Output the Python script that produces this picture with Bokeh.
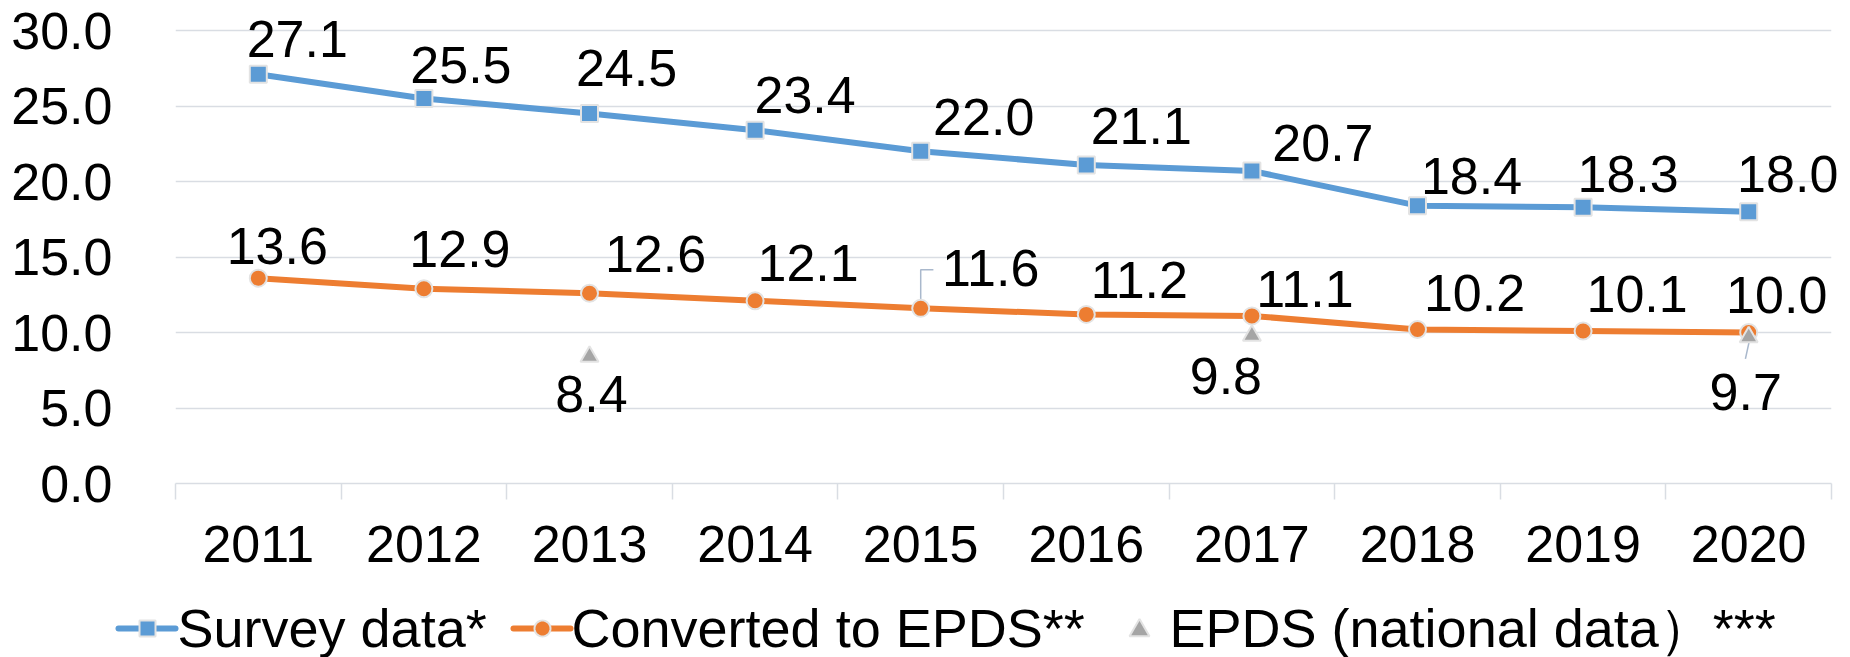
import math
from bokeh.plotting import figure
from bokeh.models import Range1d, FixedTicker, ColumnDataSource, PrintfTickFormatter
from bokeh.core.properties import value
from bokeh.embed import file_html
from bokeh.resources import INLINE

# ---------------- data ----------------
years = [2011, 2012, 2013, 2014, 2015, 2016, 2017, 2018, 2019, 2020]
survey = [27.1, 25.5, 24.5, 23.4, 22.0, 21.1, 20.7, 18.4, 18.3, 18.0]
converted = [13.6, 12.9, 12.6, 12.1, 11.6, 11.2, 11.1, 10.2, 10.1, 10.0]
epds_years = [2013, 2017, 2020]
epds = [8.4, 9.8, 9.7]
y_ticks = [0, 5, 10, 15, 20, 25, 30]
series_names = ["Survey data*", "Converted to EPDS**", "EPDS (national data）***"]

# ---------------- label placement (screen px, layout only) ----------------
survey_dx = [39, 37, 37, 50, 63, 55, 71, 54, 45, 39]
survey_dy = [-15, -13, -26, -15, -14, -19, -8, -10, -13, -18]
conv_dx = [19, 36, 66, 53, 70, 53, 53, 57, 54, 28]
conv_dy = [-12, -20, -19, -18, -20, -14, -7, -16, -17, -18]
epds_dx = [2, -26, -3]
epds_dy = [57, 60, 75]
BASE_FIX = -20  # renderer places alphabetic baseline lower; compensate

# legend layout (page px)
LEG_MID_Y = 628
LEG_BASE_Y = 647
LEG_LINES = [(118, 175), (513, 570), None]
LEG_MARK_X = [147, 542, 1139]
LEG_MARK_Y = [628, 628, 630]
LEG_MARK_R = [8, 8, 10]
LEG_TEXT_X = [177, 571, 1169]

# ---------------- styles ----------------
FONT = "Liberation Sans"
FS = "52px"
LEG_FS = "54px"
BLUE = "#5b9bd5"
ORANGE = "#ed7d31"
GRAY = "#a5a5a5"
EDGE = "#e3e3e3"
GRID = "#d9dde3"
LEADER = "#a9b8cc"

W, H = 1850, 657
BL, BR, BT, BB = 175, 19, 27, 174
x0, x1 = 2010.5, 2020.5
y0, y1 = 0, 30.2
px_x = (W - BL - BR) / (x1 - x0)
px_y = (H - BT - BB) / (y1 - y0)


def to_x(px):
    return x0 + (px - BL) / px_x


def to_y(py):
    return y1 - (py - BT) / px_y


p = figure(width=W, height=H, x_range=Range1d(x0, x1), y_range=Range1d(y0, y1),
           output_backend="svg", toolbar_location=None,
           min_border_left=BL, min_border_right=BR, min_border_top=BT, min_border_bottom=BB)
p.outline_line_color = None
p.background_fill_color = "white"
p.border_fill_color = "white"

p.xgrid.visible = False
p.ygrid.ticker = FixedTicker(ticks=y_ticks)
p.ygrid.grid_line_color = GRID
p.ygrid.grid_line_width = 1.5

yax = p.yaxis[0]
yax.ticker = FixedTicker(ticks=y_ticks)
yax.formatter = PrintfTickFormatter(format="%.1f")
yax.axis_line_color = None
yax.major_tick_line_color = None
yax.minor_tick_line_color = None
yax.major_tick_out = 0
yax.major_label_standoff = 63
yax.major_label_text_font = FONT
yax.major_label_text_font_size = FS
yax.major_label_text_color = "black"

xax = p.xaxis[0]
xax.ticker = FixedTicker(ticks=years, minor_ticks=[y - 0.5 for y in years] + [years[-1] + 0.5])
xax.major_tick_line_color = None
xax.major_tick_out = 0
xax.major_tick_in = 0
xax.minor_tick_in = 0
xax.minor_tick_out = 16
xax.minor_tick_line_color = GRID
xax.minor_tick_line_width = 1.5
xax.axis_line_color = GRID
xax.axis_line_width = 1.5
xax.major_label_standoff = 26
xax.major_label_text_font = FONT
xax.major_label_text_font_size = FS
xax.major_label_text_color = "black"

src_s = ColumnDataSource(dict(x=years, y=survey, lab=[f"{v:.1f}" for v in survey],
                              dx=survey_dx, dy=[d + BASE_FIX for d in survey_dy]))
src_c = ColumnDataSource(dict(x=years, y=converted, lab=[f"{v:.1f}" for v in converted],
                              dx=conv_dx, dy=[d + BASE_FIX for d in conv_dy]))
src_e = ColumnDataSource(dict(x=epds_years, y=epds, lab=[f"{v:.1f}" for v in epds],
                              dx=epds_dx, dy=[d + BASE_FIX for d in epds_dy]))

# leader lines (drawn beneath markers)
i15 = years.index(2015)
lx = years[i15]
ly = converted[i15]
p.line([lx, lx, lx + 12.7 / px_x], [ly, ly + 38.5 / px_y, ly + 38.5 / px_y],
       line_color=LEADER, line_width=1.5)
ex, ey = epds_years[-1], epds[-1]
p.segment(x0=[ex - 3.3 / px_x], y0=[ey - 21.8 / px_y], x1=[ex + 0.7 / px_x], y1=[ey - 3.5 / px_y],
          line_color=LEADER, line_width=1.5)

p.line("x", "y", source=src_s, line_color=BLUE, line_width=6,
       line_join="round", line_cap="round")
p.line("x", "y", source=src_c, line_color=ORANGE, line_width=6,
       line_join="round", line_cap="round")
p.scatter("x", "y", source=src_s, marker="square", size=17, fill_color=BLUE,
          line_color=EDGE, line_width=2)
p.scatter("x", "y", source=src_c, marker="circle", size=17, fill_color=ORANGE,
          line_color=EDGE, line_width=2)
p.scatter("x", "y", source=src_e, marker="triangle", size=18, fill_color=GRAY,
          line_color=EDGE, line_width=2)

for src in (src_s, src_c, src_e):
    p.text("x", "y", text="lab", x_offset="dx", y_offset="dy", source=src,
           text_font=value(FONT), text_font_size=FS, text_color="black",
           text_align="center", text_baseline="alphabetic", level="overlay")

# ---------------- legend (below the axis, drawn unclipped) ----------------
leg_colors = [BLUE, ORANGE, GRAY]


def symbol(kind, cx, cy, r):
    if kind == 0:      # square
        pts = [(-r, -r), (r, -r), (r, r), (-r, r)]
    elif kind == 1:    # circle
        pts = [(r * math.cos(2 * math.pi * k / 36), r * math.sin(2 * math.pi * k / 36))
               for k in range(36)]
    else:              # triangle
        h = r * math.sqrt(3)
        pts = [(-r, h / 3), (r, h / 3), (0, h / 3 - h)]
    return [to_x(cx + a) for a, _ in pts], [to_y(cy + b) for _, b in pts]


for i in range(3):
    if LEG_LINES[i] is not None:
        a, b = LEG_LINES[i]
        p.line([to_x(a), to_x(b)], [to_y(LEG_MID_Y), to_y(LEG_MID_Y)], line_color=leg_colors[i],
               line_width=6, line_cap="round", level="overlay")
    xs, ys = symbol(i, LEG_MARK_X[i], LEG_MARK_Y[i], LEG_MARK_R[i])
    p.patch(xs, ys, fill_color=leg_colors[i], line_color=EDGE, line_width=2, level="overlay")

leg_src = ColumnDataSource(dict(x=[to_x(v) for v in LEG_TEXT_X], y=[to_y(LEG_BASE_Y)] * 3,
                                lab=series_names))
p.text("x", "y", text="lab", source=leg_src, y_offset=BASE_FIX,
       text_font=value(FONT), text_font_size=LEG_FS, text_color="black",
       text_align="left", text_baseline="alphabetic", level="overlay")

open("out.html", "w").write(file_html(p, INLINE))
